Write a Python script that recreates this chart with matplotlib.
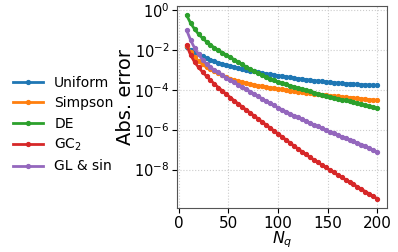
import matplotlib
matplotlib.use("Agg")
import matplotlib.pyplot as plt
import numpy as np

N_q = [8, 12, 16, 20, 24, 28, 32, 36, 40, 44, 48, 52, 56, 60, 64, 68, 72, 76, 80, 84,
       88, 92, 96, 100, 104, 108, 112, 116, 120, 124, 128, 132, 136, 140, 144, 148,
       152, 156, 160, 164, 168, 172, 176, 180, 184, 188, 192, 196, 200]

# log10 of absolute error
uniform_log10 = [-1.85, -2.0, -2.12, -2.22, -2.32, -2.41, -2.49, -2.56, -2.63, -2.69,
                 -2.75, -2.8, -2.85, -2.9, -2.95, -2.99, -3.03, -3.07, -3.11, -3.15,
                 -3.18, -3.22, -3.25, -3.28, -3.31, -3.34, -3.37, -3.4, -3.43, -3.45,
                 -3.48, -3.5, -3.53, -3.55, -3.57, -3.59, -3.61, -3.63, -3.65, -3.66,
                 -3.68, -3.69, -3.71, -3.72, -3.73, -3.74, -3.75, -3.76, -3.77]
simpson_log10 = [-1.8, -2.1, -2.35, -2.55, -2.72, -2.86, -2.97, -3.07, -3.17, -3.26,
                 -3.35, -3.43, -3.5, -3.56, -3.61, -3.66, -3.7, -3.74, -3.78, -3.82,
                 -3.85, -3.88, -3.91, -3.94, -3.97, -4.0, -4.03, -4.06, -4.09, -4.11,
                 -4.13, -4.16, -4.18, -4.21, -4.23, -4.25, -4.28, -4.3, -4.32, -4.34,
                 -4.36, -4.38, -4.4, -4.42, -4.44, -4.46, -4.48, -4.5, -4.52]
de_log10 = [-0.25, -0.65, -0.95, -1.2, -1.4, -1.58, -1.74, -1.88, -2.01, -2.13,
            -2.24, -2.36, -2.48, -2.6, -2.72, -2.84, -2.96, -3.07, -3.17, -3.26,
            -3.35, -3.44, -3.52, -3.6, -3.66, -3.72, -3.78, -3.84, -3.9, -3.96,
            -4.02, -4.07, -4.13, -4.18, -4.23, -4.28, -4.33, -4.38, -4.43, -4.48,
            -4.53, -4.58, -4.63, -4.68, -4.73, -4.78, -4.83, -4.88, -4.93]
gc2_log10 = [-1.75, -2.25, -2.6, -2.87, -3.1, -3.31, -3.51, -3.7, -3.88, -4.05,
             -4.22, -4.38, -4.54, -4.7, -4.85, -5.0, -5.15, -5.3, -5.45, -5.6,
             -5.75, -5.9, -6.05, -6.2, -6.35, -6.5, -6.65, -6.8, -6.95, -7.09,
             -7.23, -7.37, -7.5, -7.63, -7.76, -7.89, -8.02, -8.14, -8.26, -8.38,
             -8.5, -8.62, -8.74, -8.86, -8.98, -9.1, -9.22, -9.34, -9.46]
glsin_log10 = [-1.0, -1.5, -1.9, -2.22, -2.48, -2.7, -2.87, -3.0, -3.12, -3.25,
               -3.38, -3.5, -3.62, -3.74, -3.86, -3.97, -4.08, -4.2, -4.32, -4.44,
               -4.56, -4.67, -4.78, -4.89, -4.99, -5.09, -5.19, -5.29, -5.38, -5.47,
               -5.56, -5.65, -5.74, -5.83, -5.92, -6.01, -6.1, -6.18, -6.26, -6.34,
               -6.42, -6.5, -6.58, -6.66, -6.74, -6.83, -6.93, -7.03, -7.12]

labels = ["Uniform", "Simpson", "DE", "GC$_2$", "GL & sin"]
series = [uniform_log10, simpson_log10, de_log10, gc2_log10, glsin_log10]
colors = ["#1f77b4", "#ff7f0e", "#2ca02c", "#d62728", "#9467bd"]

fig = plt.figure(figsize=(3.98, 2.52), dpi=100)
ax = fig.add_axes([0.445, 0.175, 0.527, 0.801])

for lab, s, c in zip(labels, series, colors):
    ax.plot(N_q, 10.0 ** np.array(s), color=c, lw=2.0, marker="o", ms=2.8, label=lab)

ax.set_yscale("log")
ax.set_xticks([0, 50, 100, 150, 200])
ax.grid(True, color="#cccccc", linestyle=":", linewidth=0.8)
ax.tick_params(axis="x", labelsize=11, pad=2)
ax.tick_params(axis="y", labelsize=10.5, pad=2)
ax.set_xlabel("$N_q$", fontsize=11.5)
ax.xaxis.set_label_coords(0.5, -0.108)
ax.set_ylabel("Abs. error", fontsize=14)
ax.yaxis.set_label_coords(-0.2, 0.55)
for sp in ax.spines.values():
    sp.set_color("#555555")

fig.legend(loc="center left", bbox_to_anchor=(0.0, 0.505), frameon=False, fontsize=10,
           handlelength=2.2, labelspacing=0.45)

fig.savefig("out.png", dpi=100)
